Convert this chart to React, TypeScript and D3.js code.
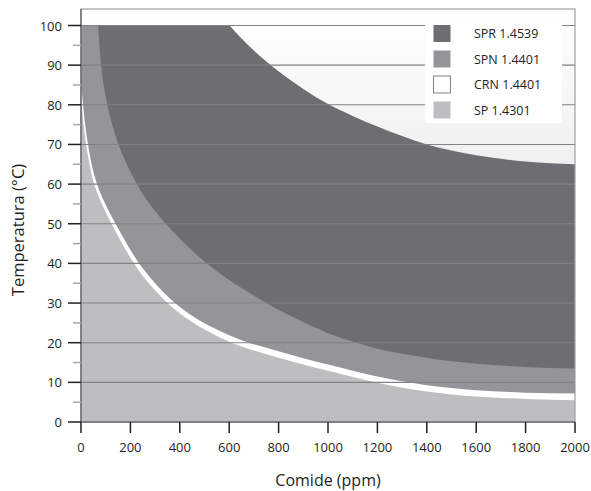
import React from 'react';
import * as d3 from 'd3';

// Comide concentration grid (ppm)
const ppm = [0, 10, 20, 30, 45, 60, 80, 100, 140, 180, 230, 300, 370, 450, 550, 650, 750, 900, 1000, 1100, 1200, 1300, 1400, 1500, 1600, 1800, 2000];
// SPR 1.4539 upper boundary (values above 100 are clipped off)
const sprUpper = [175, 174, 173, 172, 170, 168, 166, 163, 157, 151, 143, 133, 122, 113, 104, 96.7, 90.9, 84, 80.2, 77.2, 74.5, 72.1, 70, 68.5, 67.3, 65.7, 65];
// SPR lower boundary = SPN 1.4401 upper boundary
const sprLower = [260, 235, 200, 170, 135, 111, 90.8, 82.2, 72.2, 65.8, 59.6, 53.2, 48.2, 43.2, 38.0, 33.8, 30.0, 25.2, 22.4, 20.3, 18.5, 17.2, 16.2, 15.3, 14.7, 13.9, 13.5];
// CRN 1.4401 upper boundary
const crnTop = [86, 79, 73.5, 69.5, 64.5, 61, 57.5, 54.8, 50, 45.5, 40.5, 35, 30.6, 26.8, 23.3, 20.6, 18.7, 16.1, 14.5, 12.95, 11.5, 10.25, 9.3, 8.55, 8.0, 7.4, 7.2];
// SP 1.4301 upper boundary
const spTop = [82.3, 75.3, 70.3, 66.5, 61.8, 58.8, 55.6, 52.9, 48.05, 43.5, 38.55, 33.2, 28.9, 25.2, 21.7, 19.05, 17.1, 14.5, 12.9, 11.35, 9.9, 8.65, 7.7, 6.95, 6.4, 5.8, 5.5];

const xTicks = [0, 200, 400, 600, 800, 1000, 1200, 1400, 1600, 1800, 2000];
const yTicks = [0, 10, 20, 30, 40, 50, 60, 70, 80, 90, 100];
const yMinorTicks = [5, 15, 25, 35, 45, 55, 65, 75, 85, 95];

const legendLabels = ['SPR 1.4539', 'SPN 1.4401', 'CRN 1.4401', 'SP 1.4301'];
const legendColors = ['#6d6e71', '#939598', '#ffffff', '#bcbec0'];

const W = 591;
const H = 491;
const FONT = "'Open Sans', 'DejaVu Sans', sans-serif";

export default function App() {
  const x = d3.scaleLinear().domain([0, 2000]).range([81, 575]);
  const y = d3.scaleLinear().domain([0, 100]).range([422, 25.5]);
  const frameTop = 9;

  const mkArea = (vals: number[]) =>
    d3
      .area<number>()
      .x((_, i) => x(ppm[i]))
      .y0(y(0))
      .y1((d) => y(d))
      .curve(d3.curveMonotoneX)(vals) || '';

  const series = [
    { vals: sprUpper, color: legendColors[0] },
    { vals: sprLower, color: legendColors[1] },
    { vals: crnTop, color: legendColors[2] },
    { vals: spTop, color: legendColors[3] },
  ];

  const x0 = x(0), x1 = x(2000), yb = y(0);

  return (
    <svg
      width={W}
      height={H}
      viewBox={`0 0 ${W} ${H}`}
      style={{ position: 'absolute', left: 0, top: 0, background: '#fff' }}
    >
      <defs>
        <linearGradient id="bg" x1="0" y1={frameTop} x2="0" y2={170} gradientUnits="userSpaceOnUse">
          <stop offset="0" stopColor="#ffffff" />
          <stop offset="1" stopColor="#eeefef" />
        </linearGradient>
        <clipPath id="plotClip">
          <rect x={x0} y={y(100)} width={x1 - x0} height={yb - y(100)} />
        </clipPath>
      </defs>

      <rect x={x0} y={frameTop} width={x1 - x0} height={yb - frameTop} fill="url(#bg)" />

      <g clipPath="url(#plotClip)">
        {series.map((s, i) => (
          <path key={i} d={mkArea(s.vals)} fill={s.color} />
        ))}
      </g>

      {/* gridlines */}
      {yTicks.filter((t) => t > 0).map((t) => (
        <line key={t} x1={x0} x2={x1} y1={y(t)} y2={y(t)} stroke="#808285" strokeWidth={1.1} />
      ))}

      {/* frame */}
      <rect x={x0} y={frameTop} width={x1 - x0} height={yb - frameTop} fill="none" stroke="#9d9fa2" strokeWidth={1.2} />
      <line x1={x0} x2={x0} y1={frameTop} y2={yb} stroke="#6d6e71" strokeWidth={1.5} />
      <line x1={x0} x2={x1} y1={yb} y2={yb} stroke="#6d6e71" strokeWidth={1.5} />

      {/* y ticks */}
      {yMinorTicks.map((t) => (
        <line key={'m' + t} x1={73} x2={x0} y1={y(t)} y2={y(t)} stroke="#a7a9ac" strokeWidth={1.5} />
      ))}
      {yTicks.map((t) => (
        <g key={'y' + t}>
          <line x1={68} x2={x0} y1={y(t)} y2={y(t)} stroke="#231f20" strokeWidth={1.5} />
          <text
            x={62}
            y={y(t)}
            textAnchor="end"
            dominantBaseline="central"
            fontFamily={FONT}
            fontSize={13}
            fill="#231f20"
          >
            {t}
          </text>
        </g>
      ))}

      {/* x ticks */}
      {xTicks.map((t) => (
        <g key={'x' + t}>
          <line x1={x(t)} x2={x(t)} y1={yb} y2={433} stroke="#231f20" strokeWidth={1.5} />
          <text x={x(t)} y={451.5} textAnchor="middle" fontFamily={FONT} fontSize={13} fill="#231f20">
            {t}
          </text>
        </g>
      ))}

      {/* axis titles */}
      <text x={(x0 + x1) / 2} y={486} textAnchor="middle" fontFamily={FONT} fontSize={16} fill="#231f20">
        Comide (ppm)
      </text>
      <text
        transform={`translate(23.5, 230) rotate(-90)`}
        textAnchor="middle"
        fontFamily={FONT}
        fontSize={16.5}
        fill="#231f20"
      >
        Temperatura (°C)
      </text>

      {/* legend */}
      <rect x={425} y={20} width={137} height={103} fill="#ffffff" />
      {legendLabels.map((lab, i) => {
        const cy = 33.5 + i * 25.5;
        return (
          <g key={lab}>
            <rect
              x={433.5}
              y={cy - 8.5}
              width={17}
              height={17}
              fill={legendColors[i]}
              stroke={i === 2 ? '#808285' : 'none'}
              strokeWidth={1}
            />
            <text x={474} y={cy} dominantBaseline="central" fontFamily={FONT} fontSize={12.5} fill="#231f20">
              {lab}
            </text>
          </g>
        );
      })}
    </svg>
  );
}
